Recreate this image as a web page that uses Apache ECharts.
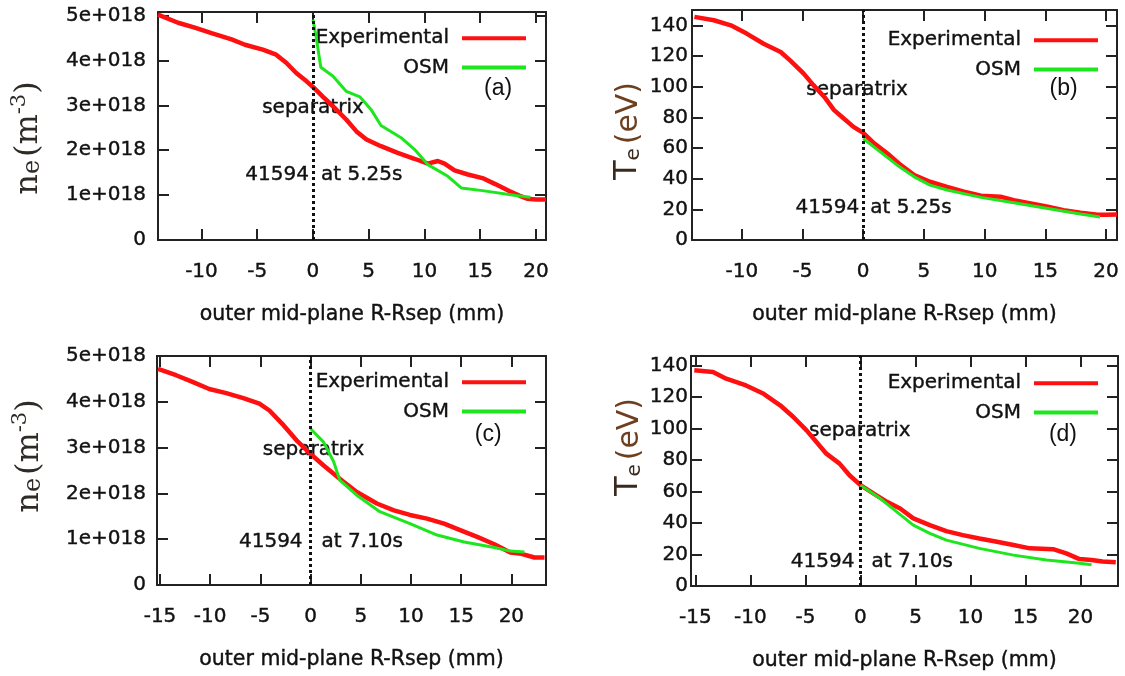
<!DOCTYPE html>
<html>
<head>
<meta charset="utf-8">
<script src="https://cdn.jsdelivr.net/npm/echarts@6/dist/echarts.min.js"></script>
<style>
  html, body { margin: 0; padding: 0; background: #fff; }
  #chart { width: 1125px; height: 676px; }
</style>
</head>
<body>
<div id="chart"></div>
<script>
// Outer mid-plane radial profiles for shot 41594, measured vs. OSM.
// Positions in mm from the separatrix, densities in 1e18 m^-3, temperatures in eV.

const xTicksShort = [-10, -5, 0, 5, 10, 15, 20];
const xTicksLong = [-15, -10, -5, 0, 5, 10, 15, 20];
const neTicks = [0, 1, 2, 3, 4, 5];
const teTicks = [0, 20, 40, 60, 80, 100, 120, 140];
const seriesNames = ['Experimental', 'OSM'];
const shotNumber = '41594';

// (a) density at 5.25 s
const aExpX = [-13.9, -12.1, -10.6, -9.1, -7.3, -6.1, -4.5, -3.3, -2.4, -1.5, -0.6, 0, 0.9, 1.8, 3.0, 3.9, 4.8, 6.1, 7.6, 9.1, 10.3, 11.2, 11.8, 12.7, 13.9, 15.2, 16.4, 17.6, 18.5, 19.2, 20.0, 20.9];
const aExpY = [5.02, 4.84, 4.73, 4.61, 4.47, 4.35, 4.24, 4.13, 3.95, 3.72, 3.54, 3.41, 3.19, 2.98, 2.68, 2.42, 2.24, 2.09, 1.94, 1.81, 1.70, 1.76, 1.70, 1.55, 1.46, 1.38, 1.24, 1.09, 0.99, 0.92, 0.90, 0.90];
const aOsmX = [0, 0.3, 0.7, 1.8, 3.0, 4.2, 5.2, 6.1, 7.9, 9.1, 10.3, 12.1, 13.3, 15.2, 18.2, 19.5];
const aOsmY = [4.91, 4.50, 3.85, 3.65, 3.31, 3.19, 2.91, 2.55, 2.28, 2.02, 1.68, 1.42, 1.16, 1.10, 0.99, 0.95];

// (b) temperature at 5.25 s
const bExpX = [-13.9, -12.3, -10.9, -9.6, -8.2, -6.8, -6.0, -4.9, -4.1, -3.2, -2.4, -1.6, -0.8, 0, 0.9, 2.0, 3.1, 4.2, 5.5, 6.9, 8.3, 9.7, 11.3, 12.4, 13.8, 15.2, 16.5, 17.9, 19.3, 20.0, 20.9];
const bExpY = [145.5, 143.3, 140, 134.6, 128, 122.6, 117, 108.5, 101, 93.3, 84.7, 79.2, 73.8, 69.9, 63, 56.4, 48.8, 42.3, 38, 34.7, 31.5, 28.9, 28.2, 26, 23.9, 21.7, 19.5, 17.8, 16.5, 16.5, 16.6];
const bOsmX = [0, 1.4, 2.8, 4.2, 5.5, 6.9, 9.7, 12.4, 15.2, 17.9, 19.5];
const bOsmY = [66.2, 57.5, 48.8, 41.2, 35.8, 32.6, 27.8, 24.3, 20.6, 16.9, 15.0];

// (c) density at 7.10 s
const cExpX = [-15.2, -13.4, -11.7, -10.1, -8.4, -6.7, -5.1, -4.1, -2.7, -1.4, 0, 1.3, 2.9, 4.6, 6.6, 8.3, 9.9, 11.6, 13.3, 14.9, 16.6, 18.3, 19.9, 21.0, 22.3, 23.3];
const cExpY = [4.72, 4.58, 4.43, 4.28, 4.19, 4.08, 3.96, 3.81, 3.49, 3.16, 2.86, 2.61, 2.32, 2.03, 1.78, 1.63, 1.53, 1.45, 1.34, 1.20, 1.05, 0.89, 0.71, 0.68, 0.60, 0.60];
const cOsmX = [0, 1.3, 2.3, 2.9, 4.6, 6.9, 9.9, 12.6, 15.3, 18.3, 19.9, 21.3];
const cOsmY = [3.41, 3.12, 2.69, 2.29, 1.96, 1.60, 1.34, 1.09, 0.94, 0.82, 0.74, 0.72];

// (d) temperature at 7.10 s
const dExpX = [-15.1, -13.4, -12.2, -10.4, -8.8, -7.3, -6.1, -4.9, -4.0, -3.1, -1.9, -1.0, 0, 1.2, 2.4, 3.6, 4.8, 6.3, 7.8, 9.3, 10.8, 12.4, 13.9, 15.4, 17.5, 18.7, 19.9, 21.0, 22.0, 23.2];
const dExpY = [136.9, 135.8, 131.6, 127.3, 122, 114.7, 107.3, 98.8, 91.4, 84, 77.7, 70.3, 64, 58.7, 53.4, 49.2, 42.9, 38.6, 34.8, 32.3, 30.2, 28.1, 26, 23.9, 23.4, 20.7, 17.1, 16.5, 15.5, 15.0];
const dOsmX = [0, 1.8, 3.3, 4.8, 6.3, 7.8, 10.8, 13.9, 16.9, 19.9, 21.0];
const dOsmY = [64, 55.5, 47.1, 38.6, 33.4, 29.1, 23.9, 19.6, 16.5, 14.4, 13.5];

const zip = (xs, ys) => xs.map((x, i) => [x, ys[i]]);

const FONT = 'DejaVu Sans';
const INK = '#111';
const RED = '#ff1010';
const GREEN = '#1ee61e';
// a thin outline of the same colour gives the labels a slightly heavier stroke
const heavy = { textBorderColor: INK, textBorderWidth: 0.4 };

const panels = [
  { grid: { left: 158, top: 12, width: 388, height: 228 }, x: [-13.9, 20.9], y: [0, 5.08],
    xt: xTicksShort, yt: neTicks, kind: 'ne', exp: [aExpX, aExpY], osm: [aOsmX, aOsmY],
    tag: '(a)', tagAt: [16.6, 3.38], time: 'at 5.25s', sepAt: [0, 2.94], shotY: 1.45, shotGap: [4, 8],
    yMargin: 12, legend: { right: 599, top: 28 }, title: [27, 138] },
  { grid: { left: 692, top: 10, width: 425, height: 230 }, x: [-14.1, 20.9], y: [0, 150],
    xt: xTicksShort, yt: teTicks, kind: 'te', exp: [bExpX, bExpY], osm: [bOsmX, bOsmY],
    tag: '(b)', tagAt: [16.5, 99], time: 'at 5.25s', sepAt: [-0.5, 97.7], shotY: 20.8, shotGap: [4, 7],
    yMargin: 4, legend: { right: 27, top: 30 }, title: [626, 131] },
  { grid: { left: 157, top: 356, width: 389, height: 229 }, x: [-15.3, 23.45], y: [0, 5],
    xt: xTicksLong, yt: neTicks, kind: 'ne', exp: [cExpX, cExpY], osm: [cOsmX, cOsmY],
    tag: '(c)', tagAt: [17.7, 3.28], time: 'at 7.10s', sepAt: [0.3, 2.95], shotY: 0.95, shotGap: [8, 11],
    yMargin: 11, legend: { right: 599, top: 372 }, title: [28, 456] },
  { grid: { left: 691, top: 356, width: 427, height: 230 }, x: [-15.4, 23.4], y: [0, 146],
    xt: xTicksLong, yt: teTicks, kind: 'te', exp: [dExpX, dExpY], osm: [dOsmX, dOsmY],
    tag: '(d)', tagAt: [18.4, 96.3], time: 'at 7.10s', sepAt: [-0.06, 98.5], shotY: 15.2, shotGap: [6, 11],
    yMargin: 3, legend: { right: 27, top: 373 }, title: [627, 447] }
];

const frameLine = { show: true, onZero: false, lineStyle: { color: '#222', width: 2 } };
const tickStyle = (values) => ({ show: true, inside: true, length: 11, customValues: values,
  lineStyle: { color: '#222', width: 2 } });
const neFmt = v => (v === 0 ? '0' : v + 'e+018');

const grids = [], xAxes = [], yAxes = [], series = [], legends = [];

panels.forEach((p, i) => {
  grids.push(Object.assign({ containLabel: false }, p.grid));

  // bottom (labelled) and top (mirror) x axes
  xAxes.push({
    gridIndex: i, type: 'value', position: 'bottom', min: p.x[0], max: p.x[1],
    axisLine: frameLine, axisTick: tickStyle(p.xt), splitLine: { show: false },
    axisLabel: Object.assign({ customValues: p.xt, margin: 22, fontSize: 20, fontFamily: FONT, color: INK }, heavy),
    name: 'outer mid-plane R-Rsep (mm)', nameLocation: 'middle', nameGap: 64,
    nameTextStyle: Object.assign({ fontSize: 20.5, fontFamily: FONT, color: INK }, heavy)
  });
  xAxes.push({
    gridIndex: i, type: 'value', position: 'top', min: p.x[0], max: p.x[1],
    axisLine: frameLine, axisTick: tickStyle(p.xt), axisLabel: { show: false }, splitLine: { show: false }
  });

  // left (labelled) and right (mirror) y axes
  yAxes.push({
    gridIndex: i, type: 'value', position: 'left', min: p.y[0], max: p.y[1],
    axisLine: frameLine, axisTick: tickStyle(p.yt), splitLine: { show: false },
    axisLabel: Object.assign({ customValues: p.yt, margin: p.yMargin, fontSize: 20, fontFamily: FONT, color: INK,
      formatter: p.kind === 'ne' ? neFmt : (v => String(v)) }, heavy)
  });
  yAxes.push({
    gridIndex: i, type: 'value', position: 'right', min: p.y[0], max: p.y[1],
    axisLine: frameLine, axisTick: tickStyle(p.yt), axisLabel: { show: false }, splitLine: { show: false }
  });

  series.push({
    name: seriesNames[0], type: 'line', xAxisIndex: 2 * i, yAxisIndex: 2 * i,
    data: zip(p.exp[0], p.exp[1]), showSymbol: false, symbol: 'none', silent: true,
    lineStyle: { color: RED, width: 4.5 }, itemStyle: { color: RED }, z: 3,
    markLine: {
      silent: true, symbol: 'none', label: { show: false },
      lineStyle: { type: [3, 3], width: 3, color: '#111' },
      data: [{ xAxis: 0 }]
    }
  });
  series.push({
    name: seriesNames[1], type: 'line', xAxisIndex: 2 * i, yAxisIndex: 2 * i,
    data: zip(p.osm[0], p.osm[1]), showSymbol: false, symbol: 'none', silent: true,
    lineStyle: { color: GREEN, width: 3 }, itemStyle: { color: GREEN }, z: 4
  });

  legends.push({
    orient: 'vertical', align: 'right', right: p.legend.right, top: p.legend.top, padding: 0,
    icon: 'rect', itemWidth: 64, itemHeight: 4, itemGap: 9, selectedMode: false,
    textStyle: Object.assign({ fontSize: 20, fontFamily: FONT, color: INK, lineHeight: 20, padding: [0, 8, 0, 0] }, heavy),
    data: seriesNames
  });
});

const chart = echarts.init(document.getElementById('chart'), null, { renderer: 'canvas' });
chart.setOption({
  animation: false,
  backgroundColor: '#ffffff',
  grid: grids, xAxis: xAxes, yAxis: yAxes, legend: legends, series: series
});

// Text annotations placed through each panel's own scales
const graphics = [];
const txt = (x, y, text, align, extra) => ({
  type: 'text', x: x, y: y, silent: true,
  style: Object.assign({ text: text, fill: INK, fontSize: 20, fontFamily: FONT,
    align: align, verticalAlign: 'middle', stroke: INK, lineWidth: 0.4 }, extra || {})
});

panels.forEach((p, i) => {
  const sIdx = 2 * i;
  const sep = chart.convertToPixel({ seriesIndex: sIdx }, p.sepAt);
  graphics.push(txt(sep[0], sep[1], 'separatrix', 'center'));

  const shot = chart.convertToPixel({ seriesIndex: sIdx }, [0, p.shotY]);
  graphics.push(txt(shot[0] - p.shotGap[0], shot[1], shotNumber, 'right'));
  graphics.push(txt(shot[0] + p.shotGap[1], shot[1], p.time, 'left'));

  const tag = chart.convertToPixel({ seriesIndex: sIdx }, p.tagAt);
  graphics.push(txt(tag[0], tag[1], p.tag, 'center', { fontFamily: 'Liberation Sans', fontSize: 23, lineWidth: 0 }));

  // rotated y-axis titles
  const rich = p.kind === 'ne'
    ? {
        text: '{n|n}{e|e}{g| }{p|(}{m|m}{s|-3}{p|)}',
        rich: {
          n: { fontSize: 32, fontFamily: 'DejaVu Serif', fill: '#2e2a26', verticalAlign: 'bottom', lineHeight: 36 },
          e: { fontSize: 24, fontFamily: 'DejaVu Serif', fill: '#2e2a26', verticalAlign: 'bottom', lineHeight: 30 },
          g: { fontSize: 10, fill: '#2e2a26' },
          p: { fontSize: 32, fontFamily: 'DejaVu Serif', fill: '#2e2a26', verticalAlign: 'bottom', lineHeight: 36 },
          m: { fontSize: 32, fontFamily: 'DejaVu Serif', fill: '#2e2a26', verticalAlign: 'bottom', lineHeight: 36 },
          s: { fontSize: 21, fontFamily: 'DejaVu Serif', fill: '#2e2a26', verticalAlign: 'top', lineHeight: 22 }
        }
      }
    : {
        text: '{t|T}{e|e}{g| }{p|(eV)}',
        rich: {
          t: { fontSize: 32, fontFamily: FONT, fill: '#3a2a1e', verticalAlign: 'bottom', lineHeight: 36 },
          e: { fontSize: 20, fontFamily: FONT, fill: '#3a2a1e', verticalAlign: 'bottom', lineHeight: 30 },
          g: { fontSize: 14 },
          p: { fontSize: 30, fontFamily: FONT, fill: '#6e3f1f', verticalAlign: 'bottom', lineHeight: 36 }
        }
      };
  graphics.push({
    type: 'text', x: p.title[0], y: p.title[1], rotation: Math.PI / 2, silent: true,
    style: Object.assign({ align: 'center', verticalAlign: 'middle' }, rich)
  });
});

chart.setOption({ graphic: graphics });
</script>
</body>
</html>
